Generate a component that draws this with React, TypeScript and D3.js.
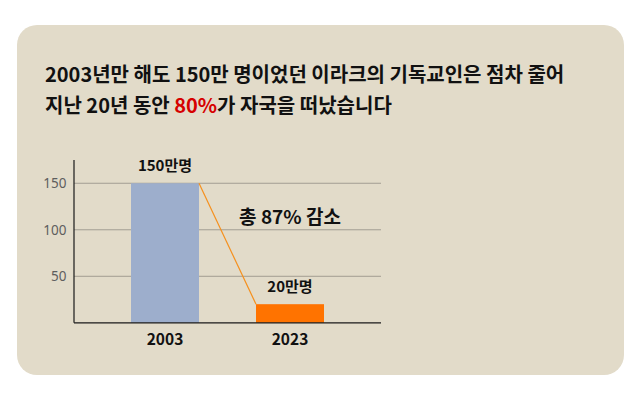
import React, { useEffect, useRef } from 'react';
import * as d3 from 'd3';

const years = ['2003', '2023'];
const christians = [150, 20];
const valueLabels = ['150만명', '20만명'];
const yTicks = [50, 100, 150];
const titleLine1 = '2003년만 해도 150만 명이었던 이라크의 기독교인은 점차 줄어';
const titleLine2 = ['지난 20년 동안 ', '80%', '가 자국을 떠났습니다'];
const noteText = '총 87% 감소';

const W = 644;
const H = 394;
const FONT = "'Noto Sans CJK KR', 'Noto Sans', sans-serif";

const App: React.FC = () => {
  const svgRef = useRef<SVGSVGElement>(null);

  useEffect(() => {
    if (!svgRef.current) return;
    const svg = d3.select(svgRef.current);
    svg.selectAll('*').remove();

    // card background
    svg.append('rect')
      .attr('x', 17).attr('y', 25)
      .attr('width', 607).attr('height', 350)
      .attr('rx', 20)
      .attr('fill', '#e2dbc9');

    // title
    svg.append('text')
      .attr('x', 45).attr('y', 81.5)
      .style('font-family', FONT)
      .style('font-size', '20px')
      .style('font-weight', 700)
      .attr('fill', '#111')
      .text(titleLine1);

    const t2 = svg.append('text')
      .attr('x', 45).attr('y', 113)
      .style('font-family', FONT)
      .style('font-size', '20px')
      .style('font-weight', 700)
      .attr('fill', '#111');
    titleLine2.forEach((s, i) => {
      t2.append('tspan').attr('fill', i === 1 ? '#d60000' : '#111').text(s);
    });

    const margin = { left: 74, right: 381, top: 160, bottom: 322.8 };

    const x = d3.scaleBand<string>()
      .domain(years)
      .range([margin.left, margin.right])
      .padding(0.456);

    const y = d3.scaleLinear()
      .domain([0, 175])
      .range([margin.bottom, margin.top]);

    // gridlines
    svg.append('g')
      .selectAll('line')
      .data(yTicks)
      .join('line')
      .attr('x1', margin.left).attr('x2', margin.right)
      .attr('y1', d => y(d)).attr('y2', d => y(d))
      .attr('stroke', '#a39d92')
      .attr('stroke-width', 1);

    // y tick labels
    svg.append('g')
      .selectAll('text')
      .data(yTicks)
      .join('text')
      .attr('x', 66.5)
      .attr('y', d => y(d) + 4.8)
      .attr('text-anchor', 'end')
      .style('font-family', "'Noto Sans', sans-serif")
      .style('font-size', '13.5px')
      .attr('fill', '#5e5e5e')
      .text(d => d);

    // bars
    const colors = ['#9daecc', '#ff7300'];
    svg.append('g')
      .selectAll('rect')
      .data(christians)
      .join('rect')
      .attr('x', (_, i) => x(years[i]) as number)
      .attr('y', d => y(d))
      .attr('width', x.bandwidth())
      .attr('height', d => y(0) - y(d))
      .attr('fill', (_, i) => colors[i]);

    // connector line
    svg.append('line')
      .attr('x1', (x(years[0]) as number) + x.bandwidth())
      .attr('y1', y(christians[0]))
      .attr('x2', x(years[1]) as number)
      .attr('y2', y(christians[1]))
      .attr('stroke', '#f5901e')
      .attr('stroke-width', 1.2);

    // axes lines
    svg.append('line')
      .attr('x1', margin.left).attr('x2', margin.left)
      .attr('y1', margin.top).attr('y2', y(0))
      .attr('stroke', '#1a1a1a').attr('stroke-width', 1.2);
    svg.append('line')
      .attr('x1', margin.left).attr('x2', margin.right)
      .attr('y1', y(0)).attr('y2', y(0))
      .attr('stroke', '#1a1a1a').attr('stroke-width', 1.2);

    // value labels
    svg.append('g')
      .selectAll('text')
      .data(christians)
      .join('text')
      .attr('x', (_, i) => (x(years[i]) as number) + x.bandwidth() / 2)
      .attr('y', d => y(d) - 12)
      .attr('text-anchor', 'middle')
      .style('font-family', FONT)
      .style('font-size', '15px')
      .style('font-weight', 600)
      .attr('fill', '#111')
      .text((_, i) => valueLabels[i]);

    // x labels
    svg.append('g')
      .selectAll('text')
      .data(years)
      .join('text')
      .attr('x', d => (x(d) as number) + x.bandwidth() / 2)
      .attr('y', 345)
      .attr('text-anchor', 'middle')
      .style('font-family', FONT)
      .style('font-size', '15.5px')
      .style('font-weight', 600)
      .attr('fill', '#111')
      .text(d => d);

    // annotation
    svg.append('text')
      .attr('x', (x(years[1]) as number) + x.bandwidth() / 2)
      .attr('y', 223.5)
      .attr('text-anchor', 'middle')
      .style('font-family', FONT)
      .style('font-size', '19px')
      .style('font-weight', 600)
      .attr('fill', '#111')
      .text(noteText);
  }, []);

  return (
    <svg
      ref={svgRef}
      width={W}
      height={H}
      style={{ position: 'absolute', left: 0, top: 0, background: '#fff' }}
    />
  );
};

export default App;
